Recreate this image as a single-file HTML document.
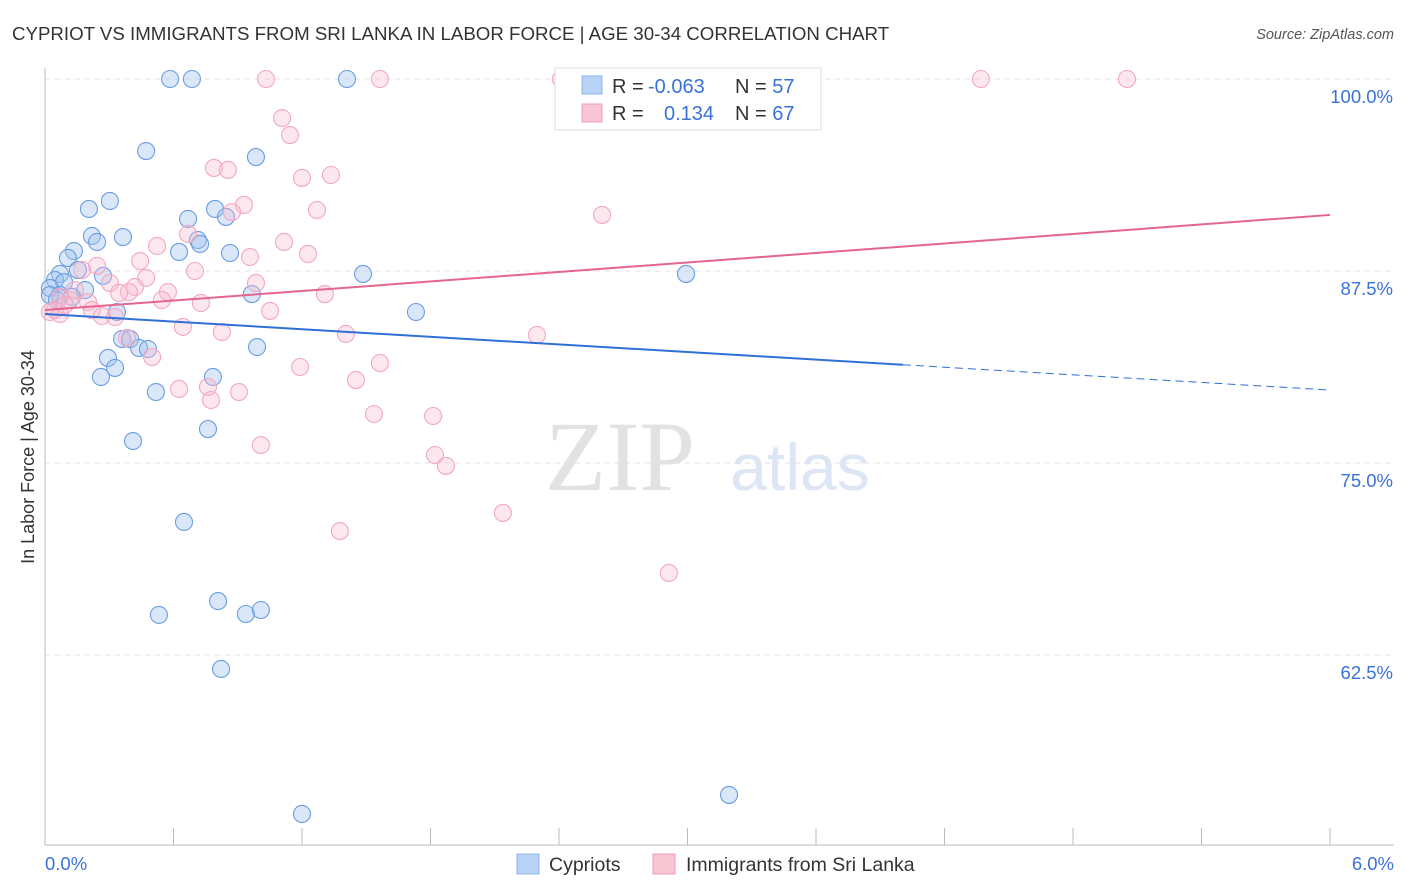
<!DOCTYPE html>
<html><head><meta charset="utf-8"><style>
body{margin:0;background:#fff;width:1406px;height:892px;overflow:hidden;font-family:"Liberation Sans",sans-serif}
svg{position:absolute;left:0;top:0}
</style></head><body>
<svg id="chart" width="1406" height="892">
<text x="12" y="40" font-size="18.7" fill="#333">CYPRIOT VS IMMIGRANTS FROM SRI LANKA IN LABOR FORCE | AGE 30-34 CORRELATION CHART</text>
<text x="1394" y="39" font-size="14.5" fill="#555" font-style="italic" text-anchor="end">Source: ZipAtlas.com</text>
<text x="620" y="490" font-size="100" fill="#e2e2e2" font-family="Liberation Serif" text-anchor="middle">ZIP</text>
<text x="800" y="490" font-size="66" fill="#dce6f4" text-anchor="middle">atlas</text>
<text x="34" y="457" font-size="18" fill="#333" text-anchor="middle" transform="rotate(-90 34 457)">In Labor Force | Age 30-34</text>
<g id="grid"></g><g id="marks"></g>
<g>
<rect x="555" y="68" width="266" height="62" fill="#fff" stroke="#ddd"/>
<rect x="582" y="76" width="20" height="18" fill="#b8d3f5" stroke="#8ab4ea"/>
<rect x="582" y="104" width="20" height="18" fill="#f9c6d6" stroke="#f09ab5"/>
<text x="612" y="93" font-size="20" fill="#333">R = <tspan fill="#3a72d8" x="648">-0.063</tspan></text>
<text x="735" y="93" font-size="20" fill="#333">N = <tspan fill="#3a72d8">57</tspan></text>
<text x="612" y="120" font-size="20" fill="#333">R = <tspan fill="#3a72d8" x="664">0.134</tspan></text>
<text x="735" y="120" font-size="20" fill="#333">N = <tspan fill="#3a72d8">67</tspan></text>
</g>
<g>
<rect x="517" y="854" width="22" height="20" fill="#b8d3f5" stroke="#8ab4ea"/>
<text x="549" y="871" font-size="19.5" fill="#333">Cypriots</text>
<rect x="653" y="854" width="22" height="20" fill="#f9c6d6" stroke="#f09ab5"/>
<text x="686" y="871" font-size="19.5" fill="#333">Immigrants from Sri Lanka</text>
</g>
</svg>
<script>
const blueX=[0.584,0.686,1.41,3.20,3.27,0.472,0.985,0.303,0.205,0.794,0.668,0.845,0.219,0.364,0.243,0.714,0.724,0.135,0.107,0.626,0.864,1.485,2.993,0.070,0.154,0.271,0.047,0.089,0.187,0.023,0.070,0.126,0.966,1.732,0.336,0.360,0.397,0.439,0.481,0.990,0.294,0.327,0.261,0.784,0.518,0.411,0.761,0.649,0.808,0.532,0.938,1.008,0.822,3.194,1.200,0.023,0.056];
const blueY=[100,100,100,100,100,95.31,94.92,92.06,91.54,91.54,90.89,91.02,89.78,89.71,89.39,89.52,89.26,88.80,88.35,88.74,88.67,87.31,87.31,87.31,87.57,87.18,86.91,86.78,86.26,86.39,85.94,85.81,86.00,84.83,84.83,83.07,83.07,82.49,82.42,82.55,81.84,81.19,80.60,80.60,79.62,76.43,77.21,71.16,66.01,65.11,65.17,65.43,61.59,53.39,52.15,85.94,85.61];
const pinkX=[2.409,1.032,1.564,4.370,5.052,1.107,1.144,0.789,0.854,1.200,1.335,0.929,0.873,1.270,2.601,0.668,1.116,0.523,1.228,0.957,0.444,0.243,0.173,0.700,0.472,0.985,0.303,0.420,0.392,0.574,0.546,0.346,0.728,1.307,0.070,0.117,0.201,0.219,0.266,0.327,1.051,0.047,0.070,0.644,0.826,1.405,2.297,0.383,0.500,1.564,1.191,1.452,0.626,0.761,0.775,0.906,1.536,1.812,1.008,1.821,1.872,2.138,1.377,2.913,0.023,0.093,0.140];
const pinkY=[100,100,100,100,100,97.46,96.35,94.21,94.08,93.56,93.75,91.80,91.34,91.47,91.15,89.91,89.39,89.13,88.61,88.41,88.15,87.83,87.57,87.50,87.05,86.72,86.72,86.46,86.13,86.13,85.61,86.07,85.42,86.00,85.81,85.61,85.48,84.96,84.57,84.50,84.90,84.96,84.70,83.86,83.53,83.40,83.34,83.14,81.90,81.51,81.25,80.40,79.82,79.95,79.10,79.62,78.19,78.06,76.17,75.52,74.81,71.75,70.57,67.84,84.83,85.29,86.26];
const yTicks=[100,87.5,75,62.5];
const yTickLabels=["100.0%","87.5%","75.0%","62.5%"];
const blueTrend=[84.70,79.75];
const pinkTrend=[84.96,91.15];
const blueSolidEnd=4.006;
const X=v=>45+v/6*1285, Y=v=>79+(100-v)*15.36;
const NS="http://www.w3.org/2000/svg";
function mk(t,a,p){const e=document.createElementNS(NS,t);for(const k in a)e.setAttribute(k,a[k]);p.appendChild(e);return e;}
const grid=document.getElementById('grid'),marks=document.getElementById('marks');
yTicks.forEach((t,i)=>{
 const l=mk('line',{x1:45,x2:1394,y1:Y(t),y2:Y(t),stroke:'#e2e2e2','stroke-dasharray':'5,5'},grid);
 
 
 const tx=mk('text',{x:1393,y:Y(t)+24,'font-size':18.5,fill:'#3a72d8','text-anchor':'end'},grid);
 tx.textContent=yTickLabels[i];
 
 
});
mk('line',{x1:45,x2:45,y1:68,y2:845,stroke:'#bbb'},grid);
mk('line',{x1:45,x2:1394,y1:845,y2:845,stroke:'#bbb'},grid);
for(let i=1;i<=10;i++){const x=X(i*0.6);mk('line',{x1:x,x2:x,y1:828,y2:845,stroke:'#bbb'},grid);}
const xl=mk('text',{x:45,y:870,'font-size':18.5,fill:'#3a72d8'},grid);xl.textContent='0.0%';


const xr=mk('text',{x:1394,y:870,'font-size':18.5,fill:'#3a72d8','text-anchor':'end'},grid);xr.textContent='6.0%';


blueX.forEach((v,i)=>{const c=mk('circle',{cx:X(v),cy:Y(blueY[i]),r:8.5,fill:'rgba(160,195,240,0.4)',stroke:'#6a9de2','stroke-width':1.1},marks);
 
 });
pinkX.forEach((v,i)=>{const c=mk('circle',{cx:X(v),cy:Y(pinkY[i]),r:8.5,fill:'rgba(248,185,205,0.35)',stroke:'#f2a8c0','stroke-width':1.1},marks);
 
 });
const bAt=x=>blueTrend[0]+(blueTrend[1]-blueTrend[0])*x/6;
const b1=mk('line',{x1:X(0),y1:Y(blueTrend[0]),x2:X(blueSolidEnd),y2:Y(bAt(blueSolidEnd)),stroke:'#2f6fd6','stroke-width':2},marks);


const b2=mk('line',{x1:X(blueSolidEnd),y1:Y(bAt(blueSolidEnd)),x2:X(6),y2:Y(blueTrend[1]),stroke:'#2f6fd6','stroke-width':1,'stroke-dasharray':'8,5'},marks);


const p1=mk('line',{x1:X(0),y1:Y(pinkTrend[0]),x2:X(6),y2:Y(pinkTrend[1]),stroke:'#e4658e','stroke-width':2},marks);


</script>
</body></html>
